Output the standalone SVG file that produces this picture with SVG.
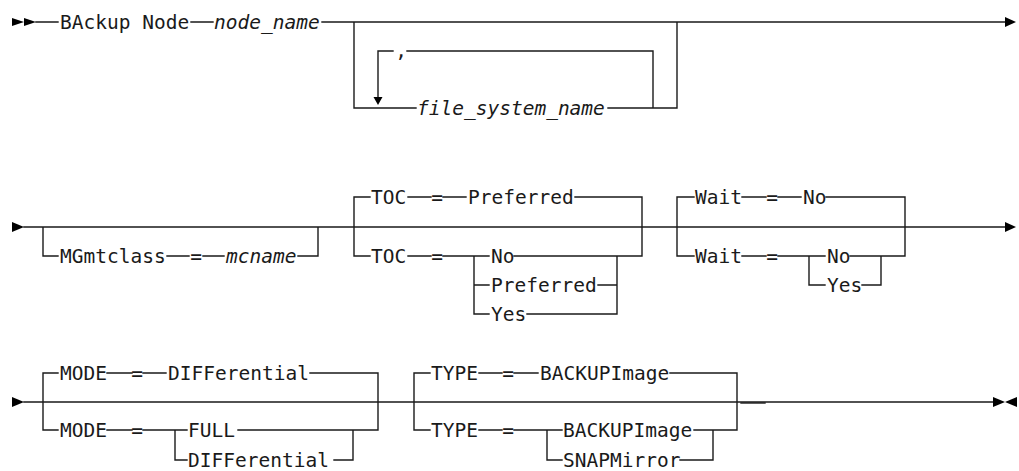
<svg xmlns="http://www.w3.org/2000/svg" width="1019" height="471" viewBox="0 0 1019 471">
<style>
.ln{fill:none;stroke:#1a1a1a;stroke-width:1.4;stroke-linecap:square}
.ah{fill:#000}
text{font-family:"DejaVu Sans Mono","Liberation Mono",monospace;font-size:19.5px;fill:#1a1a1a}
.v{font-style:italic}
.m{text-anchor:middle}
</style>
<rect width="1019" height="471" fill="#fff"/>
<g id="connectors">
<path class="ln" d="M36,22 H58 M191,22 H213 M322,22 H1005 M354,22 V108 H416 M608,108 H677 V22 M653,108 V51 H407 M393,51 H378 V97"/>
<path class="ln" d="M24,227 H1005 M43,227 V256 H58 M167,256 H189 M203,256 H224 M298,256 H318 V227"/>
<path class="ln" d="M370,197 H354 V256 H370 M408,197 H431 M443,197 H466 M575,197 H642 V256 M408,256 H431 M443,256 H489 M474,256 V314 H489 M514,256 H642 M474,285 H489 M598,285 H617 M527,314 H617 V256"/>
<path class="ln" d="M694,197 H677 V256 H694 M742,197 H766 M778,197 H801 M826,197 H905 V256 M742,256 H766 M778,256 H825 M809,256 V285 H825 M850,256 H905 M862,285 H881 V256"/>
<path class="ln" d="M24,402 H993 M58,373 H43 V430 H58 M107,373 H132 M143,373 H166 M310,373 H378 V430 M107,430 H132 M143,430 H187 M175,430 V460 H187 M238,430 H378 M334,460 H353 V430"/>
<path class="ln" d="M430,373 H414 V430 H430 M479,373 H502 M514,373 H538 M670,373 H737 V430 M479,430 H502 M514,430 H562 M547,430 V460 H562 M694,430 H737 M680,460 H713 V430"/>
<path class="ln" d="M741,403 H765" stroke-width="1"/>
<polygon class="ah" points="373.5,97 382.5,97 378,105"/>
</g>
<g id="start1"><polygon class="ah" points="12,18 24,22 12,26"/><polygon class="ah" points="24,18 36,22 24,26"/></g>
<g id="end1"><polygon class="ah" points="1005,17 1016,22 1005,27"/></g>
<g id="backup-node"><text x="60" y="29">BAckup Node</text></g>
<g id="node-name"><text class="v" x="214" y="29">node_name</text></g>
<g id="comma"><text class="m" x="401" y="57">,</text></g>
<g id="file-system-name"><text class="v" x="417" y="115">file_system_name</text></g>
<g id="start2"><polygon class="ah" points="12,222 24,227 12,232"/></g>
<g id="end2"><polygon class="ah" points="1005,222 1016,227 1005,232"/></g>
<g id="mgmtclass"><text x="60" y="263">MGmtclass</text><text class="m" x="196" y="263">=</text><text class="v" x="226" y="263">mcname</text></g>
<g id="toc-default"><text x="371" y="204">TOC</text><text class="m" x="437" y="204">=</text><text x="468" y="204">Preferred</text></g>
<g id="toc-choice"><text x="371" y="263">TOC</text><text class="m" x="437" y="263">=</text><text x="491" y="263">No</text><text x="491" y="292">Preferred</text><text x="491" y="321">Yes</text></g>
<g id="wait-default"><text x="695" y="204">Wait</text><text class="m" x="772" y="204">=</text><text x="803" y="204">No</text></g>
<g id="wait-choice"><text x="695" y="263">Wait</text><text class="m" x="772" y="263">=</text><text x="827" y="263">No</text><text x="827" y="292">Yes</text></g>
<g id="start3"><polygon class="ah" points="12,397 24,402 12,407"/></g>
<g id="mode-default"><text x="60" y="380">MODE</text><text class="m" x="137" y="380">=</text><text x="168" y="380">DIFFerential</text></g>
<g id="mode-choice"><text x="60" y="437">MODE</text><text class="m" x="137" y="437">=</text><text x="188" y="437">FULL</text><text x="188" y="467">DIFFerential</text></g>
<g id="type-default"><text x="431" y="380">TYPE</text><text class="m" x="508" y="380">=</text><text x="540" y="380">BACKUPImage</text></g>
<g id="type-choice"><text x="431" y="437">TYPE</text><text class="m" x="508" y="437">=</text><text x="563" y="437">BACKUPImage</text><text x="563" y="467">SNAPMirror</text></g>
<g id="end3"><polygon class="ah" points="993,397 1005,402 993,407"/><polygon class="ah" points="1017,397 1005,402 1017,407"/></g>
</svg>
